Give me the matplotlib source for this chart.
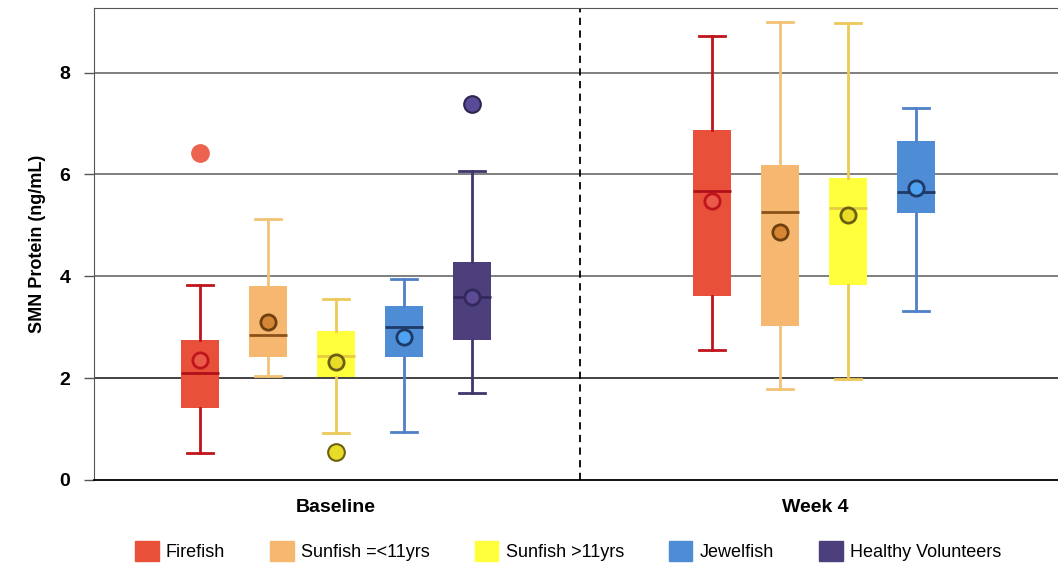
import matplotlib
matplotlib.use("Agg")
import matplotlib.pyplot as plt
from matplotlib.patches import Patch

plt.rcParams['font.family'] = ['Liberation Sans', 'DejaVu Sans']

groups = ["Firefish", "Sunfish =<11yrs", "Sunfish >11yrs", "Jewelfish", "Healthy Volunteers"]
timepoints = ["Baseline", "Week 4"]

# Baseline (all five groups)
base_lo = [0.53, 2.04, 0.92, 0.94, 1.71]
base_q1 = [1.41, 2.42, 2.02, 2.42, 2.75]
base_med = [2.10, 2.85, 2.44, 3.01, 3.60]
base_q3 = [2.75, 3.81, 2.93, 3.42, 4.28]
base_hi = [3.83, 5.13, 3.56, 3.95, 6.07]
base_mean = [2.36, 3.10, 2.32, 2.81, 3.60]
base_out = [[6.42], [], [0.55], [], [7.39]]

# Week 4 (no healthy volunteers)
wk4_lo = [2.55, 1.78, 1.98, 3.31]
wk4_q1 = [3.62, 3.03, 3.83, 5.25]
wk4_med = [5.68, 5.27, 5.34, 5.65]
wk4_q3 = [6.88, 6.19, 5.93, 6.65]
wk4_hi = [8.72, 9.00, 8.97, 7.31]
wk4_mean = [5.48, 4.86, 5.20, 5.73]
wk4_out = [[], [], [], []]

box_colors = ["#E8503A", "#F6B870", "#FFFF3C", "#4F8CD6", "#4C3F7C"]
whisk_colors = ["#C0141C", "#F2C275", "#EDC95A", "#4F80C8", "#40356C"]
med_colors = ["#B0101A", "#8A5218", "#E6CC40", "#1E3A66", "#33295C"]
mean_faces = ["#EA5A48", "#D48634", "#E8DC28", "#4FA2F2", "#5C4B94"]
mean_edges = ["#C0141C", "#6E4010", "#6B6010", "#1E3A66", "#33295C"]
out_faces = ["#EC6450", "#D48634", "#E8DC28", "#4FA2F2", "#5A4A98"]
out_edges = ["#EC6450", "#6E4010", "#6B6010", "#1E3A66", "#2E2550"]

fig = plt.figure(figsize=(10.58, 5.68), dpi=100)
ax = fig.add_axes([0.0888, 0.155, 0.9112, 0.831])

data = [(base_lo, base_q1, base_med, base_q3, base_hi, base_mean, base_out),
        (wk4_lo, wk4_q1, wk4_med, wk4_q3, wk4_hi, wk4_mean, wk4_out)]
starts = [1.0, 8.57]
for t, (lo, q1, med, q3, hi, mean, out) in enumerate(data):
    for i in range(len(lo)):
        pos = starts[t] + i * 1.005
        stats = [dict(whislo=lo[i], q1=q1[i], med=med[i], q3=q3[i], whishi=hi[i],
                      mean=mean[i], fliers=out[i])]
        ax.bxp(stats, positions=[pos], widths=0.56, capwidths=0.39,
               patch_artist=True, showmeans=True, showfliers=True,
               boxprops=dict(facecolor=box_colors[i], edgecolor=box_colors[i], linewidth=0),
               whiskerprops=dict(color=whisk_colors[i], linewidth=2),
               capprops=dict(color=whisk_colors[i], linewidth=2),
               medianprops=dict(color=med_colors[i], linewidth=2),
               meanprops=dict(marker='o', markersize=11, markerfacecolor=mean_faces[i],
                              markeredgecolor=mean_edges[i], markeredgewidth=2),
               flierprops=dict(marker='o', markersize=12, markerfacecolor=out_faces[i],
                               markeredgecolor=out_edges[i], markeredgewidth=1.5),
               zorder=3)

ax.axvline(6.62, color='black', linestyle='--', linewidth=1.3, dashes=(4, 3), zorder=2)
for yv in [2, 4, 6, 8]:
    ax.axhline(yv, color='#222222' if yv == 2 else '#6a6a6a', linewidth=1.2, zorder=1)

ax.set_xlim(-0.57, 13.69)
ax.set_ylim(0, 9.27)
ax.set_yticks([0, 2, 4, 6, 8])
ax.set_yticklabels(["0", "2", "4", "6", "8"], fontsize=14, fontweight='bold')
ax.set_xticks([3.0, 10.1])
ax.set_xticklabels(timepoints, fontsize=14, fontweight='bold')
ax.tick_params(axis='x', length=0, pad=14)
ax.tick_params(axis='y', length=7, width=1, color='#555555', pad=10)
ax.set_ylabel("SMN Protein (ng/mL)", fontsize=13, fontweight='bold', labelpad=10)

ax.spines['right'].set_visible(False)
ax.spines['top'].set_color('#555555')
ax.spines['left'].set_color('#555555')
ax.spines['bottom'].set_color('black')
ax.spines['bottom'].set_linewidth(1.3)

handles = [Patch(facecolor=c, edgecolor=c) for c in box_colors]
fig.legend(handles, groups, loc='center', bbox_to_anchor=(0.537, 0.03), ncol=5,
           frameon=False, fontsize=13, handlelength=1.3, handleheight=1.3,
           handletextpad=0.4, columnspacing=2.5)

fig.savefig("out.png", dpi=100)
